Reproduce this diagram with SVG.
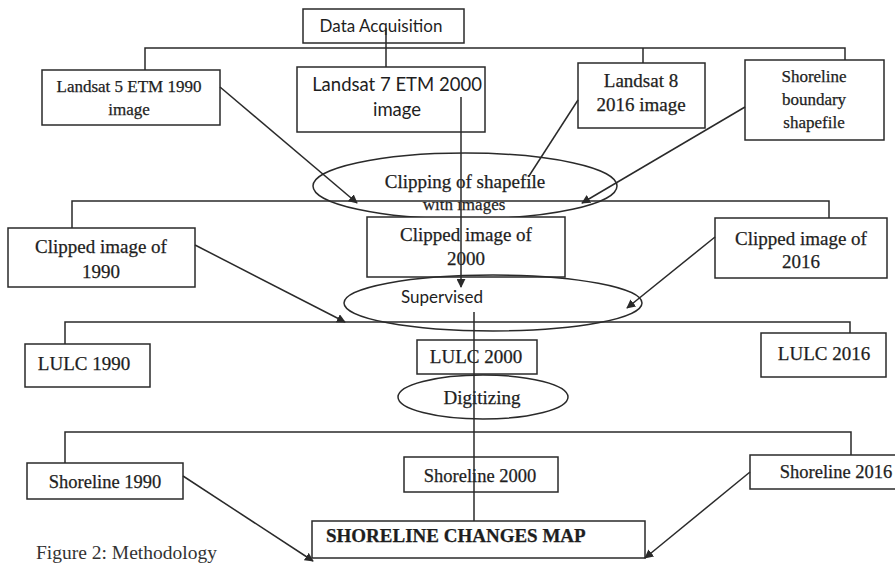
<svg xmlns="http://www.w3.org/2000/svg" width="895" height="564" viewBox="0 0 895 564">
<style>
.box{fill:#fff;stroke:#2a2a2a;stroke-width:1.5}
.ell{fill:none;stroke:#2a2a2a;stroke-width:1.5}
.ln{fill:none;stroke:#2a2a2a;stroke-width:1.5}
.ar{fill:none;stroke:#2a2a2a;stroke-width:1.5;marker-end:url(#ah)}
.s{font-family:"Liberation Serif","Times New Roman",serif;fill:#1e1e1e;stroke:#1e1e1e;stroke-width:0.25}
.ss{font-family:Lato,"Liberation Sans",sans-serif;fill:#1e1e1e}
</style>
<defs>
<marker id="ah" viewBox="0 0 10 10" refX="9" refY="5" markerWidth="9" markerHeight="9" markerUnits="userSpaceOnUse" orient="auto">
<path d="M0,0 L10,5 L0,10 z" fill="#2a2a2a"/>
</marker>
<clipPath id="cw"><rect x="380" y="201.5" width="180" height="15"/></clipPath>
</defs>
<rect width="895" height="564" fill="#fff"/>

<g text-anchor="middle">
<g id="n-data"><rect class="box" x="303" y="9" width="161" height="34"/><text class="ss" x="381" y="32" style="font-size:17px">Data Acquisition</text></g>
<g id="n-l5"><rect class="box" x="42" y="70" width="178" height="55"/><text class="s" x="129" y="92" style="font-size:17px">Landsat 5 ETM 1990</text><text class="s" x="129" y="115" style="font-size:17px">image</text></g>
<g id="n-l7"><rect class="box" x="297" y="67" width="188" height="65"/><text class="ss" x="397" y="91" style="font-size:18.5px">Landsat 7 ETM 2000</text><text class="ss" x="397" y="116" style="font-size:18.5px">image</text></g>
<g id="n-l8"><rect class="box" x="578" y="63" width="127" height="65"/><text class="s" x="641" y="87" style="font-size:19px">Landsat 8</text><text class="s" x="641" y="111" style="font-size:19px">2016 image</text></g>
<g id="n-sb"><rect class="box" x="745" y="60" width="139" height="80"/><text class="s" x="814" y="82" style="font-size:17px">Shoreline</text><text class="s" x="814" y="105" style="font-size:17px">boundary</text><text class="s" x="814" y="128" style="font-size:17px">shapefile</text></g>

<g id="n-clip"><ellipse class="ell" cx="465" cy="186" rx="152" ry="33"/><text class="s" x="465" y="188" style="font-size:19px">Clipping of shapefile</text><text class="s" x="464" y="210" style="font-size:17px" clip-path="url(#cw)">with images</text></g>

<g id="n-c90"><rect class="box" x="8" y="228" width="187" height="59"/><text class="s" x="101" y="253" style="font-size:19px">Clipped image of</text><text class="s" x="101" y="278" style="font-size:19px">1990</text></g>
<g id="n-c00"><rect class="box" x="367" y="217" width="198" height="60"/><text class="s" x="466" y="241" style="font-size:19px">Clipped image of</text><text class="s" x="466" y="265" style="font-size:19px">2000</text></g>
<g id="n-c16"><rect class="box" x="715" y="218" width="172" height="60"/><text class="s" x="801" y="245" style="font-size:19px">Clipped image of</text><text class="s" x="801" y="268" style="font-size:19px">2016</text></g>

<g id="n-sup"><ellipse class="ell" cx="493" cy="303" rx="149" ry="28"/><text class="ss" x="442" y="303" style="font-size:17px">Supervised</text></g>

<g id="n-lu90"><rect class="box" x="25" y="344" width="125" height="43"/><text class="s" x="84" y="370" style="font-size:19px">LULC 1990</text></g>
<g id="n-lu00"><rect class="box" x="417" y="340" width="120" height="34"/><text class="s" x="476" y="363" style="font-size:19px">LULC 2000</text></g>
<g id="n-lu16"><rect class="box" x="761" y="333" width="125" height="44"/><text class="s" x="824" y="360" style="font-size:19px">LULC 2016</text></g>

<g id="n-dig"><ellipse class="ell" cx="483" cy="397" rx="85" ry="22"/><text class="s" x="482" y="404" style="font-size:19px">Digitizing</text></g>

<g id="n-s90"><rect class="box" x="27" y="463" width="156" height="36"/><text class="s" x="105" y="488" style="font-size:18.5px">Shoreline 1990</text></g>
<g id="n-s00"><rect class="box" x="404" y="457" width="154" height="35"/><text class="s" x="480" y="482" style="font-size:18.5px">Shoreline 2000</text></g>
<g id="n-s16"><rect class="box" x="750" y="455" width="150" height="34"/><text class="s" x="836" y="478" style="font-size:18.5px">Shoreline 2016</text></g>

<g id="n-map"><rect class="box" x="312" y="521" width="333" height="37"/><text class="s" x="326" y="542" text-anchor="start" style="font-size:19px;font-weight:bold">SHORELINE CHANGES MAP</text></g>
</g>

<text class="s" x="36" y="559" style="font-size:19.5px;fill:#333;stroke:none">Figure 2: Methodology</text>

<g id="connectors">
<path class="ln" d="M386,28 V67 M145,70 V48 H845 V60 M643,48 V63"/>
<path class="ar" d="M461,97 V287"/>
<path class="ar" d="M220,87 L357,203"/>
<path class="ln" d="M578,100 L529,176"/>
<path class="ar" d="M745,107 L582,203"/>
<path class="ln" d="M72,228 V201 H829 V218"/>
<path class="ar" d="M195,245 L345,322"/>
<path class="ar" d="M715,237 L627,308"/>
<path class="ln" d="M65,344 V322 H850 V333"/>
<path class="ln" d="M474,312 V521"/>
<path class="ln" d="M65,463 V432 H851 V455"/>
<path class="ar" d="M183,476 L313,561"/>
<path class="ar" d="M750,472 L645,558"/>
</g>
</svg>
